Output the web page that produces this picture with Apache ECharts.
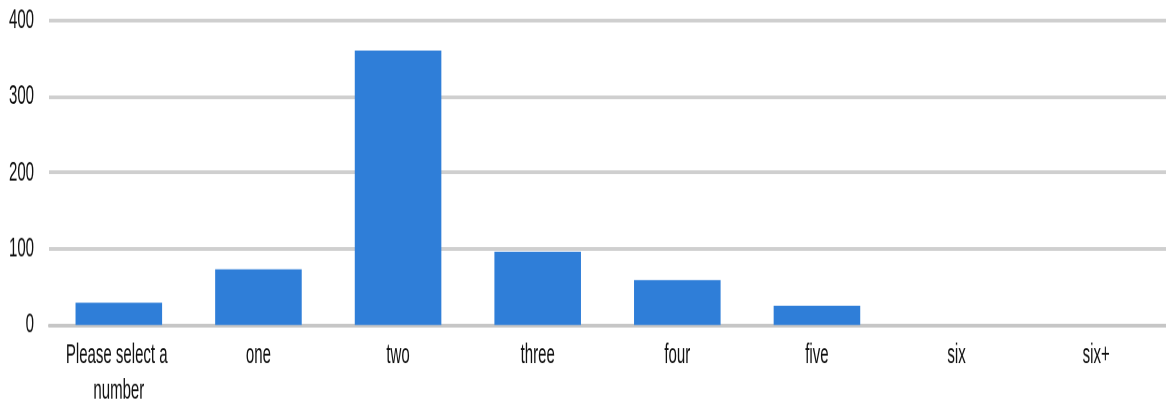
<!DOCTYPE html>
<html>
<head>
<meta charset="utf-8">
<script src="https://cdn.jsdelivr.net/npm/echarts@6/dist/echarts.min.js"></script>
<style>
html,body{margin:0;padding:0;background:#fff;overflow:hidden;}
#wrap{width:1166px;height:408px;overflow:hidden;}
#chart{width:1166px;height:218px;transform:scaleY(1.8716);transform-origin:0 0;}
</style>
</head>
<body>
<div id="wrap"><div id="chart"></div></div>
<script>
const categories = ["Please select a number", "one", "two", "three", "four", "five", "six", "six+"];
const counts = [29, 73, 360, 96, 59, 25, 0, 0];
const yTicks = [0, 100, 200, 300, 400];

const font = '"Liberation Sans", Arial, sans-serif';
const chart = echarts.init(document.getElementById('chart'), null, {renderer: 'canvas', devicePixelRatio: 2});
chart.setOption({
  animation: false,
  backgroundColor: '#ffffff',
  grid: {left: 49, right: 0, top: 10.7, bottom: 44.4, containLabel: false},
  xAxis: {
    type: 'category',
    data: categories,
    axisLine: {show: true, lineStyle: {color: '#c6c6c6', width: 2}},
    axisTick: {show: false},
    axisLabel: {
      interval: 0,
      margin: 7,
      color: '#111',
      fontFamily: font,
      fontSize: 15,
      lineHeight: 18.7,
      width: 112,
      overflow: 'break'
    }
  },
  yAxis: {
    type: 'value',
    min: yTicks[0],
    max: yTicks[yTicks.length - 1],
    interval: 100,
    axisLine: {show: false},
    axisTick: {show: false},
    axisLabel: {margin: 15, color: '#111', fontFamily: font, fontSize: 15},
    splitLine: {show: true, lineStyle: {color: '#cfcfcf', width: 2}}
  },
  series: [{
    type: 'bar',
    data: counts,
    barCategoryGap: '38%',
    itemStyle: {color: '#2f7ed8'}
  }]
});
</script>
</body>
</html>
